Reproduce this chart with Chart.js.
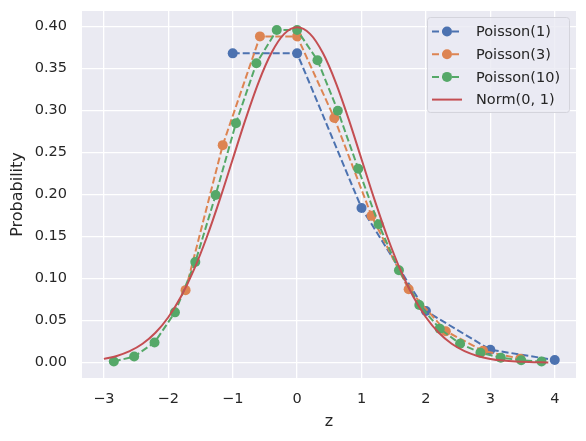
<!DOCTYPE html>
<html>
<head>
<meta charset="utf-8">
<script src="https://cdn.jsdelivr.net/npm/chart.js@4.4.1/dist/chart.umd.min.js"></script>
<style>
  html, body { margin: 0; padding: 0; background: #ffffff; }
  #wrap { width: 586px; height: 441px; }
</style>
</head>
<body>
<div id="wrap"><canvas id="chart"></canvas></div>
<script>
// standardized Poisson pmf (z = (k - lambda)/sqrt(lambda), p scaled by sqrt(lambda))
var pois1Z = [-1, 0, 1, 2, 3, 4];
var pois1P = [0.3679, 0.3679, 0.1839, 0.0613, 0.0153, 0.0031];

var pois3Z = [-1.732, -1.155, -0.577, 0, 0.577, 1.155, 1.732, 2.309, 2.887, 3.464];
var pois3P = [0.0862, 0.2587, 0.3881, 0.3881, 0.2910, 0.1746, 0.0873, 0.0374, 0.0140, 0.0047];

var pois10Z = [-2.846, -2.530, -2.214, -1.897, -1.581, -1.265, -0.949, -0.632, -0.316, 0,
  0.316, 0.632, 0.949, 1.265, 1.581, 1.897, 2.214, 2.530, 2.846, 3.162, 3.479, 3.795];
var pois10P = [0.0014, 0.0072, 0.0239, 0.0598, 0.1196, 0.1994, 0.2849, 0.3561, 0.3956, 0.3956,
  0.3597, 0.2997, 0.2306, 0.1647, 0.1098, 0.0686, 0.0404, 0.0224, 0.0118, 0.0059, 0.0028, 0.0013];

var normZ = [-3.0, -2.8, -2.6, -2.4, -2.2, -2.0, -1.8, -1.6, -1.4, -1.2, -1.0, -0.8, -0.6, -0.4, -0.2,
  0.0, 0.2, 0.4, 0.6, 0.8, 1.0, 1.2, 1.4, 1.6, 1.8, 2.0, 2.2, 2.4, 2.6, 2.8, 3.0, 3.2, 3.4, 3.6, 3.8, 3.9];
var normP = [0.00443, 0.00792, 0.01358, 0.02239, 0.03547, 0.05399, 0.07895, 0.11092, 0.14973, 0.19419,
  0.24197, 0.28969, 0.33322, 0.36827, 0.39104, 0.39894, 0.39104, 0.36827, 0.33322, 0.28969,
  0.24197, 0.19419, 0.14973, 0.11092, 0.07895, 0.05399, 0.03547, 0.02239, 0.01358, 0.00792,
  0.00443, 0.00238, 0.00123, 0.00061, 0.00029, 0.00020];

var xTicks = [-3, -2, -1, 0, 1, 2, 3, 4];
var yTicks = [0, 0.05, 0.10, 0.15, 0.20, 0.25, 0.30, 0.35, 0.40];
var seriesNames = ['Poisson(1)', 'Poisson(3)', 'Poisson(10)', 'Norm(0, 1)'];

var colors = ['#4C72B0', '#DD8452', '#55A868', '#C44E52'];
var textColor = '#262626';
var FONT = "'DejaVu Sans', sans-serif";

function pts(xs, ys) {
  return xs.map(function (x, i) { return { x: x, y: ys[i] }; });
}

function poissonSet(i, xs, ys) {
  return {
    label: seriesNames[i],
    data: pts(xs, ys),
    showLine: true,
    borderColor: colors[i],
    backgroundColor: colors[i],
    borderWidth: 2,
    borderDash: [7, 3],
    pointRadius: 5,
    pointHoverRadius: 5,
    pointBorderWidth: 0,
    tension: 0,
    order: 4 - i
  };
}

var bgPlugin = {
  id: 'axesBg',
  beforeDraw: function (chart) {
    var a = chart.chartArea, ctx = chart.ctx;
    ctx.save();
    ctx.fillStyle = '#EAEAF2';
    ctx.fillRect(a.left, a.top, a.right - a.left, a.bottom - a.top);
    ctx.restore();
  }
};

var legendPlugin = {
  id: 'mplLegend',
  afterDraw: function (chart) {
    var a = chart.chartArea, ctx = chart.ctx;
    var w = 142, h = 95;
    var x0 = a.right - 7 - w, y0 = a.top + 6;
    ctx.save();
    ctx.beginPath();
    ctx.roundRect(x0 + 0.5, y0 + 0.5, w, h, 3);
    ctx.fillStyle = 'rgba(234,234,242,0.8)';
    ctx.fill();
    ctx.strokeStyle = '#d4d4dc';
    ctx.lineWidth = 1;
    ctx.stroke();
    ctx.font = '14.5px ' + FONT;
    ctx.textBaseline = 'middle';
    for (var i = 0; i < seriesNames.length; i++) {
      var cy = y0 + 14.5 + i * 22.7;
      var lx = x0 + 5;
      ctx.strokeStyle = colors[i];
      ctx.lineWidth = 2;
      ctx.setLineDash(i < 3 ? [7, 3] : []);
      ctx.beginPath();
      ctx.moveTo(lx, cy);
      ctx.lineTo(lx + 30, cy);
      ctx.stroke();
      ctx.setLineDash([]);
      if (i < 3) {
        ctx.fillStyle = colors[i];
        ctx.beginPath();
        ctx.arc(lx + 15, cy, 5, 0, Math.PI * 2);
        ctx.fill();
      }
      ctx.fillStyle = textColor;
      ctx.fillText(seriesNames[i], x0 + 49, cy + 1);
    }
    ctx.restore();
  }
};

var config = {
  type: 'scatter',
  data: {
    datasets: [
      poissonSet(0, pois1Z, pois1P),
      poissonSet(1, pois3Z, pois3P),
      poissonSet(2, pois10Z, pois10P),
      {
        label: seriesNames[3],
        data: pts(normZ, normP),
        showLine: true,
        borderColor: colors[3],
        backgroundColor: colors[3],
        borderWidth: 2,
        pointRadius: 0,
        cubicInterpolationMode: 'monotone',
        order: 0
      }
    ]
  },
  options: {
    responsive: true,
    maintainAspectRatio: false,
    animation: false,
    layout: { padding: { left: 0, right: 10, top: 11, bottom: 0 } },
    plugins: {
      legend: { display: false },
      tooltip: { enabled: false }
    },
    scales: {
      x: {
        type: 'linear',
        min: -3.34,
        max: 4.33,
        afterBuildTicks: function (s) { s.ticks = xTicks.map(function (v) { return { value: v }; }); },
        afterFit: function (s) { s.height = 63; s.paddingLeft = 0; s.paddingRight = 0; },
        grid: { color: '#ffffff', lineWidth: 1.3, drawTicks: false },
        border: { display: false },
        ticks: {
          color: textColor,
          padding: 13,
          font: { family: FONT, size: 14.5 },
          callback: function (v) { return String(v).replace('-', '\u2212'); }
        },
        title: {
          display: true,
          text: 'z',
          color: textColor,
          font: { family: FONT, size: 16 },
          padding: { top: 0, bottom: 10 }
        }
      },
      y: {
        min: -0.0183,
        max: 0.4183,
        afterBuildTicks: function (s) { s.ticks = yTicks.map(function (v) { return { value: v }; }); },
        afterFit: function (s) { s.width = 82; s.paddingTop = 0; s.paddingBottom = 0; },
        grid: { color: '#ffffff', lineWidth: 1.3, drawTicks: false },
        border: { display: false },
        ticks: {
          color: textColor,
          padding: 15,
          font: { family: FONT, size: 14.5 },
          callback: function (v) { return v.toFixed(2); }
        },
        title: {
          display: true,
          text: 'Probability',
          color: textColor,
          font: { family: FONT, size: 16 },
          padding: { top: 8, bottom: 0 }
        }
      }
    }
  },
  plugins: [bgPlugin, legendPlugin]
};

window.onload = function () {
  var ctx = document.getElementById('chart').getContext('2d');
  window.myChart = new Chart(ctx, config);
};
</script>
</body>
</html>
